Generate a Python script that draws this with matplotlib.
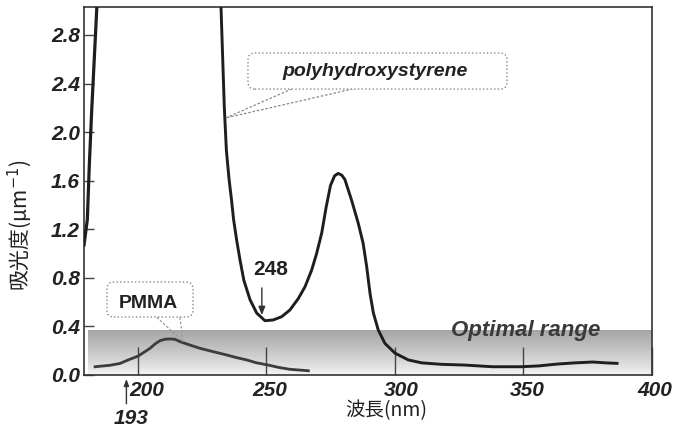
import numpy as np
import matplotlib
matplotlib.use("Agg")
import matplotlib.pyplot as plt
import matplotlib.transforms as mtransforms
from matplotlib.patches import FancyBboxPatch

# ---------------- data ----------------
phs_left_nm = [179.0, 180.3, 181.05, 182.0, 184.0, 184.3]
phs_left_abs = [1.07, 1.28, 1.72, 2.18, 3.03, 3.10]

phs_nm = [232.2, 232.6, 233.6, 234.4, 235.4, 236.4, 237.2, 238.4, 239.7, 241.2, 243.6,
          246.2, 249.4, 252.6, 255.9, 259.1, 262.4, 265.0, 267.6, 269.5, 271.5, 273.2,
          274.9, 276.5, 277.9, 279.3, 280.5, 283.1, 285.7, 287.6, 289.0, 290.3, 291.6,
          293.5, 296.1, 300.0, 305.2, 310.4, 318.0, 327.0, 338.0, 349.0, 356.0, 363.0,
          370.0, 377.0, 382.0, 386.4]
phs_abs = [3.10, 2.84, 2.20, 1.85, 1.62, 1.44, 1.28, 1.11, 0.947, 0.78, 0.62,
           0.51, 0.447, 0.453, 0.48, 0.535, 0.63, 0.727, 0.865, 1.00, 1.17, 1.38,
           1.56, 1.64, 1.66, 1.645, 1.61, 1.44, 1.25, 1.085, 0.89, 0.67, 0.51,
           0.37, 0.26, 0.18, 0.124, 0.10, 0.088, 0.082, 0.068, 0.068, 0.075, 0.09,
           0.10, 0.107, 0.10, 0.096]

pmma_nm = [183.3, 189.1, 193.0, 196.2, 200.1, 204.7, 206.6, 208.6, 210.5, 212.5, 214.4,
           216.3, 220.2, 224.1, 229.3, 234.5, 238.4, 242.3, 246.2, 250.7, 254.6, 259.1,
           266.3]
pmma_abs = [0.068, 0.08, 0.095, 0.124, 0.156, 0.22, 0.255, 0.283, 0.294, 0.297, 0.294,
            0.275, 0.247, 0.22, 0.192, 0.165, 0.143, 0.124, 0.10, 0.082, 0.063, 0.047,
            0.035]

optimal_range = (0.0, 0.37)
x_ticks = [200, 250, 300, 350, 400]
y_ticks = [0.0, 0.4, 0.8, 1.2, 1.6, 2.0, 2.4, 2.8]
y_tick_labels = ["0.0", "0.4", "0.8", "1.2", "1.6", "2.0", "2.4", "2.8"]

plt.rcParams['font.family'] = ['Liberation Sans', 'DejaVu Sans']

W, H = 677, 434
fig = plt.figure(figsize=(W / 100, H / 100), dpi=100)
L, R, B, T = 84, 652, 375, 7
ax = fig.add_axes([L / W, (H - B) / H, (R - L) / W, (B - T) / H])
ax.set_xlim(179.0, 400)
ax.set_ylim(0, 3.03)

# optimal range band: grey at the top fading to near-white at the bottom
n_strips = 60
edges = np.linspace(optimal_range[0], optimal_range[1], n_strips + 1)
for k in range(n_strips):
    frac = (k + 0.5) / n_strips          # 0 bottom -> 1 top
    g = 0.97 - 0.32 * frac ** 0.8
    ax.fill_between([180.5, 400], edges[k], edges[k + 1], color=(g, g, g), lw=0,
                    zorder=0.5)

# curves
ax.plot(phs_left_nm, phs_left_abs, color="#1e1e1e", lw=2.3, zorder=3)
ax.plot(phs_nm, phs_abs, color="#1e1e1e", lw=2.1, zorder=3, solid_joinstyle="round")
ax.plot(pmma_nm, pmma_abs, color="#3c3c3c", lw=2.0, zorder=3, solid_joinstyle="round")

# axes styling
for s in ax.spines.values():
    s.set_color("#333333")
    s.set_linewidth(1.2)
ax.set_xticks(x_ticks)
ax.set_xticklabels([str(v) for v in x_ticks])
ax.set_yticks(y_ticks)
ax.set_yticklabels(y_tick_labels)
ax.tick_params(axis="x", direction="in", length=20, width=1.0, color="#444444", pad=4,
               labelsize=15)
ax.tick_params(axis="y", direction="in", length=7, width=1.0, color="#444444", pad=3,
               labelsize=15)
label_shift_px = [9, 3.5, 6, 3.5, 3]
for lab, dx in zip(ax.get_xticklabels(), label_shift_px):
    lab.set_transform(lab.get_transform() +
                      mtransforms.ScaledTranslation(dx / 100, 0, fig.dpi_scale_trans))
for lab in ax.get_xticklabels() + ax.get_yticklabels():
    lab.set_fontweight("bold")
    lab.set_fontstyle("italic")
    lab.set_color("#222222")

# axis labels
fig.text(20 / W, 1 - 225 / H, "吸光度(μm$^{-1}$)", rotation=90, ha="center", va="center",
         fontsize=15, family=["Noto Sans CJK JP", "DejaVu Sans"], color="#222222")
fig.text(386 / W, 1 - 411 / H, "波長(nm)", ha="center", va="center",
         fontsize=14, family=["Noto Sans CJK JP", "DejaVu Sans"], color="#222222")

# callout boxes (axes coords)
asp = (R - L) / (B - T)
box1 = FancyBboxPatch((0.2887, 0.777), 0.7447 - 0.2887, 0.875 - 0.777,
                      boxstyle="round,pad=0,rounding_size=0.012", mutation_aspect=asp,
                      transform=ax.transAxes, fc="white", ec="#888888", lw=1.0, ls=":",
                      zorder=5)
ax.add_patch(box1)
ax.text(0.513, 0.826, "polyhydroxystyrene", transform=ax.transAxes, ha="center",
        va="center", fontsize=14, fontweight="bold", fontstyle="italic", color="#222222",
        zorder=6)
tip1 = (234.2, 2.117)
for bx in (259.9, 283.7):
    ax.plot([bx, tip1[0]], [2.356, tip1[1]], color="#888888", lw=0.9, ls=(0, (2, 1.5)),
            zorder=4)

box2 = FancyBboxPatch((0.0405, 0.1576), 0.1919 - 0.0405, 0.2527 - 0.1576,
                      boxstyle="round,pad=0,rounding_size=0.012", mutation_aspect=asp,
                      transform=ax.transAxes, fc="white", ec="#888888", lw=1.0, ls=":",
                      zorder=5)
ax.add_patch(box2)
ax.text(0.1127, 0.193, "PMMA", transform=ax.transAxes, ha="center", va="center",
        fontsize=14, fontweight="bold", color="#222222", zorder=6)
tip2 = (217.6, 0.274)
for bx in (207.3, 216.3):
    ax.plot([bx, tip2[0]], [0.475, tip2[1]], color="#999999", lw=0.9, ls=(0, (2, 1.5)),
            zorder=4)

# 248 marker
ax.annotate("", xy=(248.2, 0.47), xytext=(248.2, 0.74),
            arrowprops=dict(arrowstyle="-|>,head_length=0.5,head_width=0.2", color="#333333",
                            lw=1.0), zorder=6)
ax.text(251.7, 0.865, "248", ha="center", va="center", fontsize=15, fontweight="bold",
        color="#222222", zorder=6)

# 193 marker (below axis)
ax.annotate("", xy=(195.5, -0.01), xytext=(195.5, -0.26),
            arrowprops=dict(arrowstyle="-|>,head_length=0.4,head_width=0.15", color="#333333",
                            lw=1.0), annotation_clip=False)
ax.text(197.3, -0.355, "193", ha="center", va="center", fontsize=15, fontweight="bold",
        fontstyle="italic", color="#222222", clip_on=False)

# optimal range label
ax.text(351.0, 0.37, "Optimal range", ha="center", va="center", fontsize=16,
        fontweight="bold", fontstyle="italic", color="#3a3a3a", zorder=4)

fig.savefig("out.png", dpi=100)
